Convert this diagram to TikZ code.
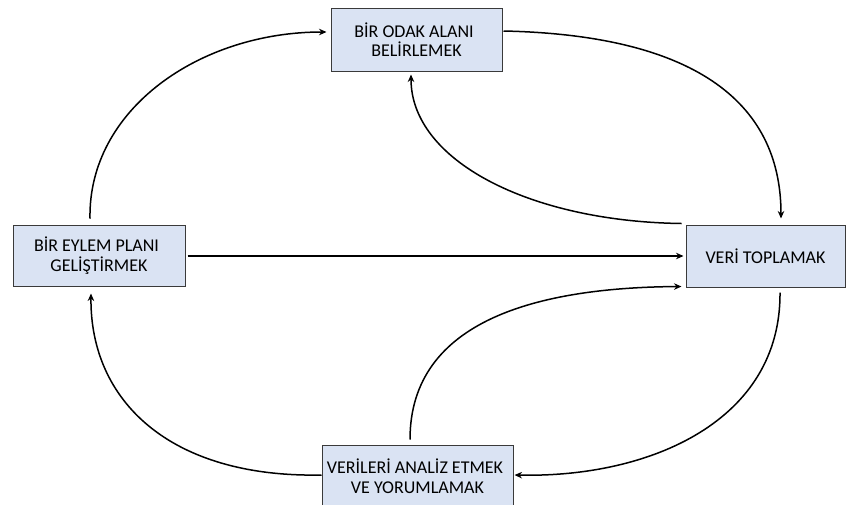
\documentclass[tikz,border=0pt]{standalone}
\usepackage{fontspec}
\setmainfont{Carlito}
\usetikzlibrary{arrows.meta,calc}
\definecolor{boxfill}{HTML}{DAE3F3}
\definecolor{boxline}{HTML}{3A3A3A}
% a small gap closing some lines
\newcommand{\gapend}{\hspace*{5pt}}
\tikzset{
  stage/.style={draw=boxline, line width=1pt, fill=boxfill, align=center,
    inner sep=0pt, font=\fontsize{18}{19.5}\selectfont},
  flow/.style={line width=1.5pt, -{Stealth[length=7.5pt,width=6.5pt]}},
}
\begin{document}
\begin{tikzpicture}[x=1pt,y=-1pt]
  \useasboundingbox (0,0) rectangle (846,504);
  % the four stages of the cycle
  \node[stage, minimum width=171pt, minimum height=63pt] (focus) at (416.5,39.5)
    {BİR ODAK ALANI\gapend\\BELİRLEMEK};
  \node[stage, minimum width=172pt, minimum height=61pt] (plan) at (99,255.5)
    {BİR EYLEM PLANI\gapend\\GELİŞTİRMEK};
  \node[stage, minimum width=159pt, minimum height=62pt] (data) at (765.5,256)
    {VERİ TOPLAMAK};
  \node[stage, minimum width=191pt, minimum height=62pt] (analyse) at (417.5,476)
    {VERİLERİ ANALİZ ETMEK\gapend\\VE YORUMLAMAK};
  % connectors between the stages
  \draw[flow] ($(plan.north)+(-9,-6)$) .. controls +(-2,-109) and +(-127,0) .. ($(focus.west)+(-4,-7.5)$);
  \draw[flow] ($(focus.east)+(1,-8.5)$) .. controls +(187,4) and +(0,-119) .. ($(data.north)+(15.5,-6)$);
  \draw[flow] ($(data.north west)+(-4,-1)$) .. controls +(-152,-2) and +(0,86) .. ($(focus.south)+(-5.5,3)$);
  \draw[flow] ($(plan.east)+(2,0.5)$) -- ($(data.west)+(-2,0)$);
  \draw[flow] ($(data.south)+(14.5,5)$) .. controls +(1,128) and +(136,3) .. ($(analyse.east)+(1,-1)$);
  \draw[flow] ($(analyse.north)+(-7.5,-5)$) .. controls +(0,-120) and +(-142,1) .. ($(data.south west)+(-4,-1)$);
  \draw[flow] ($(analyse.west)+(0,-1)$) .. controls +(-152,3) and +(-1,107) .. ($(plan.south)+(-8,7)$);
\end{tikzpicture}
\end{document}
